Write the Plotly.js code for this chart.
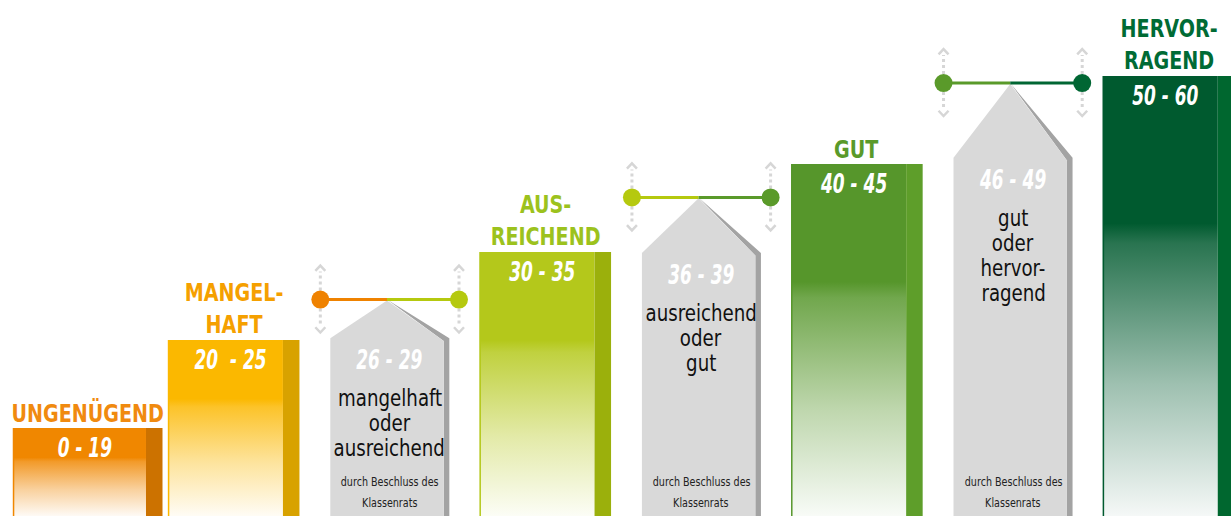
<!DOCTYPE html>
<html>
<head>
<meta charset="utf-8">
<script src="https://cdn.plot.ly/plotly-3.0.1.min.js"></script>
<style>
  html, body { margin: 0; padding: 0; background: #ffffff; }
  #chart { width: 1231px; height: 516px; }
</style>
</head>
<body>
<div id="chart"></div>
<script>
// ---------- DATA ----------
const gradeLabels = ['UNGENÜGEND', 'MANGEL-<br>HAFT', 'AUS-<br>REICHEND', 'GUT', 'HERVOR-<br>RAGEND'];
const gradeRanges = ['0 - 19', '20\u00a0 - 25', '30 - 35', '40 - 45', '50 - 60'];
const gradeLevels = [1, 2, 3, 4, 5];

const borderRanges = ['26 - 29', '36 - 39', '46 - 49'];
const borderGrades = [
  ['mangelhaft', 'oder', 'ausreichend'],
  ['ausreichend', 'oder', 'gut'],
  ['gut', 'oder', 'hervor-', 'ragend']
];
const borderShoulder = [2.02, 2.99, 4.07];
const borderApex = [2.46, 3.62, 4.92];
const borderNote = ['durch Beschluss des', 'Klassenrats'];

// ---------- STYLE ----------
const barColors   = ['#f08700', '#fbb800', '#b4c81b', '#56962b', '#005a2f'];
const sideColors  = ['#cc7200', '#d8a200', '#9bb00c', '#5e9e2a', '#00672f'];
const labelColors = ['#f08a0f', '#f5a000', '#9cc21d', '#5a9a2a', '#006b35'];
const dotColors   = ['#ef8200', '#b5c90f', '#5a9a2a', '#006633'];
const FONT = "'DejaVu Sans Condensed', 'DejaVu Sans', sans-serif";
const YTOP = 516 / 88;

function mix(hex, t) {
  const r = parseInt(hex.slice(1, 3), 16), g = parseInt(hex.slice(3, 5), 16), b = parseInt(hex.slice(5, 7), 16);
  const m = v => Math.round(v * t + 255 * (1 - t));
  return 'rgb(' + m(r) + ',' + m(g) + ',' + m(b) + ')';
}

const traces = [];
const annotations = [];
const squeeze = [];   // horizontal condensing factor per annotation
function addAnn(a, sx) { annotations.push(a); squeeze.push(sx); }

// ---------- GRADE BARS ----------
gradeLevels.forEach((lvl, k) => {
  const slot = k === 0 ? 0 : 2 * k - 1;
  const L = slot + (k === 0 ? 0.005 : 0);
  const R = slot + (k === 0 ? 0.859 : 0.738);
  const S = R + 0.106;
  const c = barColors[k];
  traces.push({
    type: 'scatter', mode: 'lines', x: [L, R, R, L, L], y: [0, 0, lvl, lvl, 0],
    fill: 'toself', line: { width: 0, color: c }, hoverinfo: 'skip',
    fillgradient: {
      type: 'vertical', start: 0, stop: lvl,
      colorscale: [[0, mix(c, 0.04)], [0.3, mix(c, 0.38)], [0.62, mix(c, 0.84)], [0.665, c], [1, c]]
    }
  });
  traces.push({
    type: 'scatter', mode: 'lines', x: [R, S, S, R, R], y: [0, 0, lvl, lvl, 0],
    fill: 'toself', fillcolor: sideColors[k], line: { width: 0, color: sideColors[k] }, hoverinfo: 'skip'
  });
  traces.push({
    type: 'scatter', mode: 'lines', x: [L + 0.004, L + 0.004], y: [0, lvl],
    line: { width: 1.5, color: c }, hoverinfo: 'skip'
  });
  const cx = (L + S) / 2;
  addAnn({
    x: cx, y: lvl, xref: 'x', yref: 'y', yanchor: 'bottom', xanchor: 'center', yshift: -2,
    text: gradeLabels[k], showarrow: false,
    font: { family: FONT, size: 25, color: labelColors[k], weight: 'bold' }
  }, 0.85);
  addAnn({
    x: cx - 0.02, y: lvl, xref: 'x', yref: 'y', yanchor: 'top', xanchor: 'center', yshift: -2,
    text: gradeRanges[k], showarrow: false,
    font: { family: FONT, size: 27, color: '#ffffff', weight: 'bold', style: 'italic' }
  }, 0.7);
});

// ---------- BORDER HOUSES ----------
borderRanges.forEach((rng, j) => {
  const slot = 2 * j + 2;
  const L = slot + 0.042, R = slot + 0.770, S = slot + 0.806;
  const ax = (L + R) / 2;
  const sh = borderShoulder[j], ap = borderApex[j];
  // shadow side + roof edge
  traces.push({
    type: 'scatter', mode: 'lines', x: [ax, S, S, R, R, ax], y: [ap, sh, 0, 0, sh - 0.03, ap],
    fill: 'toself', fillcolor: '#a3a3a3', line: { width: 0, color: '#a3a3a3' }, hoverinfo: 'skip'
  });
  // front face
  traces.push({
    type: 'scatter', mode: 'lines', x: [L, L, ax, R, R, L], y: [0, sh, ap - 0.01, sh - 0.03, 0, 0],
    fill: 'toself', fillcolor: '#d9d9d9', line: { width: 0, color: '#d9d9d9' }, hoverinfo: 'skip'
  });
  const dL = slot - 0.022, dR = slot + 0.868;
  const cL = dotColors[j], cR = dotColors[j + 1];
  // dotted double arrows
  [dL, dR].forEach(dx => {
    const up1 = ap + 9 / 88, up2 = ap + 28 / 88, tip = ap + 34 / 88;
    const dn1 = ap - 9 / 88, dn2 = ap - 27 / 88, tipd = ap - 33 / 88;
    traces.push({ type: 'scatter', mode: 'lines', x: [dx, dx], y: [up1, up2], line: { width: 3, color: '#d6d6d6', dash: 'dot' }, hoverinfo: 'skip' });
    traces.push({ type: 'scatter', mode: 'lines', x: [dx, dx], y: [dn1, dn2], line: { width: 3, color: '#d6d6d6', dash: 'dot' }, hoverinfo: 'skip' });
    traces.push({ type: 'scatter', mode: 'lines', x: [dx - 0.032, dx, dx + 0.032], y: [tip - 0.06, tip, tip - 0.06], line: { width: 2.5, color: '#d6d6d6' }, hoverinfo: 'skip' });
    traces.push({ type: 'scatter', mode: 'lines', x: [dx - 0.032, dx, dx + 0.032], y: [tipd + 0.06, tipd, tipd + 0.06], line: { width: 2.5, color: '#d6d6d6' }, hoverinfo: 'skip' });
  });
  traces.push({ type: 'scatter', mode: 'lines', x: [dL, ax], y: [ap, ap], line: { width: 3, color: cL }, hoverinfo: 'skip' });
  traces.push({ type: 'scatter', mode: 'lines', x: [ax, dR], y: [ap, ap], line: { width: 3, color: cR }, hoverinfo: 'skip' });
  traces.push({ type: 'scatter', mode: 'markers', x: [dL, dR], y: [ap, ap], marker: { size: 18, color: [cL, cR], line: { width: 0 } }, hoverinfo: 'skip' });

  const cx = (L + S) / 2;
  addAnn({
    x: cx, y: sh, xref: 'x', yref: 'y', yanchor: 'top', xanchor: 'center', yshift: -4,
    text: rng, showarrow: false,
    font: { family: FONT, size: 27, color: '#ffffff', weight: 'bold', style: 'italic' }
  }, 0.7);
  borderGrades[j].forEach((line, i) => {
    addAnn({
      x: cx, y: sh, xref: 'x', yref: 'y', yanchor: 'middle', xanchor: 'center', yshift: -(60 + 25 * i),
      text: line, showarrow: false,
      font: { family: FONT, size: 23, color: '#111111' }
    }, 0.88);
  });
  borderNote.forEach((line, i) => {
    addAnn({
      x: cx, y: 0, xref: 'x', yref: 'y', yanchor: 'middle', xanchor: 'center', yshift: 35 - 21 * i,
      text: line, showarrow: false,
      font: { family: FONT, size: 13, color: '#222222' }
    }, 0.82);
  });
});

const layout = {
  width: 1231, height: 516,
  margin: { l: 0, r: 0, t: 0, b: 0, pad: 0 },
  paper_bgcolor: '#ffffff', plot_bgcolor: '#ffffff',
  showlegend: false,
  xaxis: { range: [-0.078, 7.823], visible: false, fixedrange: true },
  yaxis: { range: [0, YTOP], visible: false, fixedrange: true },
  annotations: annotations
};

Plotly.newPlot('chart', traces, layout, { staticPlot: true, displayModeBar: false }).then(gd => {
  // condense the annotation texts horizontally (no narrow font installed)
  gd.querySelectorAll('g.annotation').forEach(g => {
    const idx = +g.getAttribute('data-index');
    const sx = squeeze[idx];
    const t = g.querySelector('text.annotation-text');
    if (!t || !sx) return;
    const bb = t.getBBox();
    const cx = bb.x + bb.width / 2;
    t.setAttribute('transform', 'translate(' + (cx * (1 - sx)) + ',0) scale(' + sx + ',1)');
  });
});
</script>
</body>
</html>
